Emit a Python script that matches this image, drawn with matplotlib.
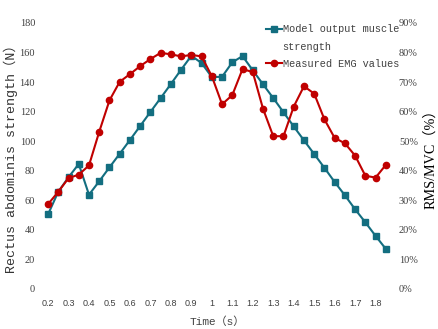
import numpy as np
import matplotlib.pyplot as plt
from matplotlib.lines import Line2D

# time (s), one sample every 0.05 s
time_s = [0.2, 0.25, 0.3, 0.35, 0.4, 0.45, 0.5, 0.55, 0.6, 0.65, 0.7, 0.75,
          0.8, 0.85, 0.9, 0.95, 1.0, 1.05, 1.1, 1.15, 1.2, 1.25, 1.3, 1.35,
          1.4, 1.45, 1.5, 1.55, 1.6, 1.65, 1.7, 1.75, 1.8, 1.85]

# model output muscle strength (N), left axis
model_force = [50.5, 65.8, 75.6, 84.6, 63.8, 72.9, 82.3, 91.5, 100.8, 110.3,
               119.8, 129.2, 138.7, 148.4, 157.8, 152.9, 143.4, 143.6, 153.4,
               157.6, 148.0, 138.5, 129.2, 119.6, 110.0, 100.6, 91.3, 82.0,
               72.4, 63.4, 53.9, 45.1, 35.9, 27.1]

# measured EMG, RMS/MVC (%), right axis
emg_pct = [28.7, 32.9, 37.5, 38.7, 41.8, 53.2, 63.8, 70.1, 72.7, 75.4, 77.8,
           79.9, 79.4, 78.7, 79.2, 78.7, 72.0, 62.5, 65.6, 74.4, 73.4, 61.0,
           51.7, 51.7, 61.7, 68.6, 66.1, 57.4, 51.1, 49.3, 45.1, 38.3, 37.7,
           42.0]

x_ticks = [0.2, 0.3, 0.4, 0.5, 0.6, 0.7, 0.8, 0.9, 1.0, 1.1, 1.2, 1.3, 1.4,
           1.5, 1.6, 1.7, 1.8]
x_tick_labels = ['0.2', '0.3', '0.4', '0.5', '0.6', '0.7', '0.8', '0.9', '1',
                 '1.1', '1.2', '1.3', '1.4', '1.5', '1.6', '1.7', '1.8']
left_ticks = [0, 20, 40, 60, 80, 100, 120, 140, 160, 180]
right_ticks = [0, 10, 20, 30, 40, 50, 60, 70, 80, 90]

blue = '#136e80'
red = '#c00000'
tick_col = '#404040'
mono = ['Liberation Mono', 'Noto Sans CJK SC']
serif = ['Liberation Serif', 'Noto Sans CJK SC']

fig = plt.figure(figsize=(4.38, 3.29), dpi=100)
ax = fig.add_axes([0.0863, 0.1216, 0.818, 0.8085])
ax2 = ax.twinx()

l1, = ax.plot(time_s, model_force, color=blue, lw=1.5, marker='s', ms=4.2)
l2, = ax2.plot(time_s, emg_pct, color=red, lw=1.5, marker='o', ms=4.5)

ax.set_xlim(0.15, 1.9)
ax.set_ylim(0, 180)
ax2.set_ylim(0, 90)

ax.set_xticks(x_ticks)
ax.set_xticklabels(x_tick_labels, fontsize=6.5, family='Liberation Sans',
                   color=tick_col)
ax.set_yticks(left_ticks)
ax.set_yticklabels([str(v) for v in left_ticks], fontsize=7.5, family=serif,
                   color=tick_col)
ax2.set_yticks(right_ticks)
ax2.set_yticklabels([f'{v}%' for v in right_ticks], fontsize=7.5,
                    family=serif, color=tick_col)

for a in (ax, ax2):
    for s in a.spines.values():
        s.set_visible(False)
    a.tick_params(length=0)
ax.tick_params(axis='x', pad=7)
ax.tick_params(axis='y', pad=2)
ax2.tick_params(axis='y', pad=2)

ax.set_xlabel('Time（s）', family=mono, fontsize=8, color=tick_col,
              labelpad=6)
ax.set_ylabel('Rectus abdominis strength（N）', family=mono, fontsize=9.6,
              color='#333333')
ax.yaxis.set_label_coords(-0.056, 0.5)
ax2.set_ylabel('RMS/MVC（%）', family=serif, fontsize=10.2, color='black')
ax2.yaxis.set_label_coords(1.078, 0.5)

# first legend label wraps onto a second line with no marker beside it
blank = Line2D([], [], color='none')
leg = ax2.legend(handles=[l1, blank, l2],
                 labels=['Model output muscle', 'strength',
                         'Measured EMG values'],
                 loc='upper left', bbox_to_anchor=(0.62, 1.018),
                 frameon=False, prop={'family': mono, 'size': 7.4},
                 handlelength=1.5, handletextpad=0.1, borderaxespad=0.2,
                 labelspacing=0.7)
for t in leg.get_texts():
    t.set_color(tick_col)

fig.savefig('out.png', dpi=100)
